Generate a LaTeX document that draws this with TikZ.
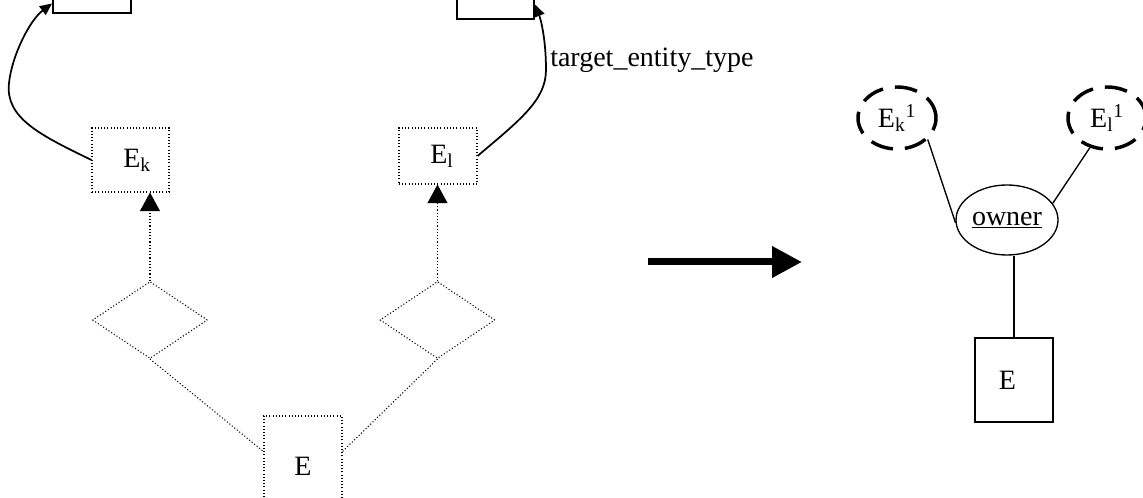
\documentclass[tikz,border=0pt]{standalone}
\usepackage{fontspec}
\setmainfont{Liberation Serif}
\usetikzlibrary{arrows.meta,shapes.geometric,calc}
\begin{document}
\begin{tikzpicture}[x=0.75pt,y=-0.75pt,
  font=\fontsize{21}{25}\selectfont,
  dotline/.style={dash pattern=on 0.8pt off 1.6pt,line width=0.8pt},
  dotbox/.style={draw,dotline,rectangle,inner sep=0pt},
  solidbox/.style={draw,line width=1.5pt,rectangle,inner sep=0pt},
  dotdia/.style={draw,dotline,diamond,inner sep=0pt,minimum width=86.25pt,minimum height=57.75pt},
  isa/.style={dotline,-{Triangle[width=15pt,length=14pt]}},
  curve/.style={line width=1.3pt,-{Triangle[width=8pt,length=9pt]}},
  dashell/.style={draw,ellipse,line width=2.6pt,dash pattern=on 17pt off 9pt,inner sep=0pt,minimum width=58.5pt,minimum height=46.5pt},
  link/.style={line width=1pt},
  bigarrow/.style={line width=5.25pt,-{Triangle[width=22.5pt,length=22.5pt]}}
]
\useasboundingbox (0,0) rectangle (1143,498);

% ---- left: entity types reached through the relationship ----
\node[solidbox,minimum width=58.5pt,minimum height=14.25pt] (tl) at (92,3.5) {};
\node[solidbox,minimum width=57.75pt,minimum height=21.75pt] (tr) at (495.5,4.5) {};

\node[dotbox,minimum width=57.75pt,minimum height=48pt] (Ek) at (130.5,160) {\hspace{10pt}E\textsubscript{k}};
\node[dotbox,minimum width=58.5pt,minimum height=42pt] (El) at (438,156) {\hspace{6pt}E\textsubscript{l}};

\node[dotdia] (dk) at (150,320) {};
\node[dotdia] (dl) at (437.5,320) {};

\node[dotbox,minimum width=58.5pt,minimum height=75pt] (E) at (303,466) {E};

\draw[isa] (dk.north) -- (dk.north |- Ek.south);
\draw[isa] (dl.north) -- (dl.north |- El.south);
\draw[dotline] (dk.south) -- ($(E.north west)+(0,36)$);
\draw[dotline] (dl.south) -- ($(E.north east)+(0,36)$);

\draw[curve] (Ek.west) .. controls (40,135) and (5,118) .. (9,83)
             .. controls (12,55) and (30,20) .. (tl.west);
\draw[curve] (El.east) .. controls (520,120) and (546,100) .. (546,70)
             .. controls (546,40) and (541,20) .. (tr.east);
\node[anchor=west,inner sep=0pt] (tlabel) at (550,60) {target\_entity\_type};

% ---- transformation arrow ----
\coordinate (from) at (648,262);
\coordinate (to) at (802,262);
\draw[bigarrow] (from) -- (to);

% ---- right: resulting attribute ----
\node[dashell] (Ek1) at (897,118) {E\textsubscript{k}\textsuperscript{1}};
\node[dashell] (El1) at (1107,118) {E\textsubscript{l}\textsuperscript{1}};
\node[draw,ellipse,line width=1pt,inner sep=0pt,minimum width=76.5pt,minimum height=52.5pt] (owner) at (1007,220) {\underline{owner}};
\node[draw,rectangle,line width=1.5pt,inner sep=0pt,minimum width=58.5pt,minimum height=63pt] (Eb) at (1014,380) {\hspace{-10pt}E};

\draw[link] (Ek1.-35) -- (owner.183);
\draw[link] (El1.-120) -- (owner.20);
\draw[link] (Eb.north) -- (Eb.north |- owner.south);
\end{tikzpicture}
\end{document}
